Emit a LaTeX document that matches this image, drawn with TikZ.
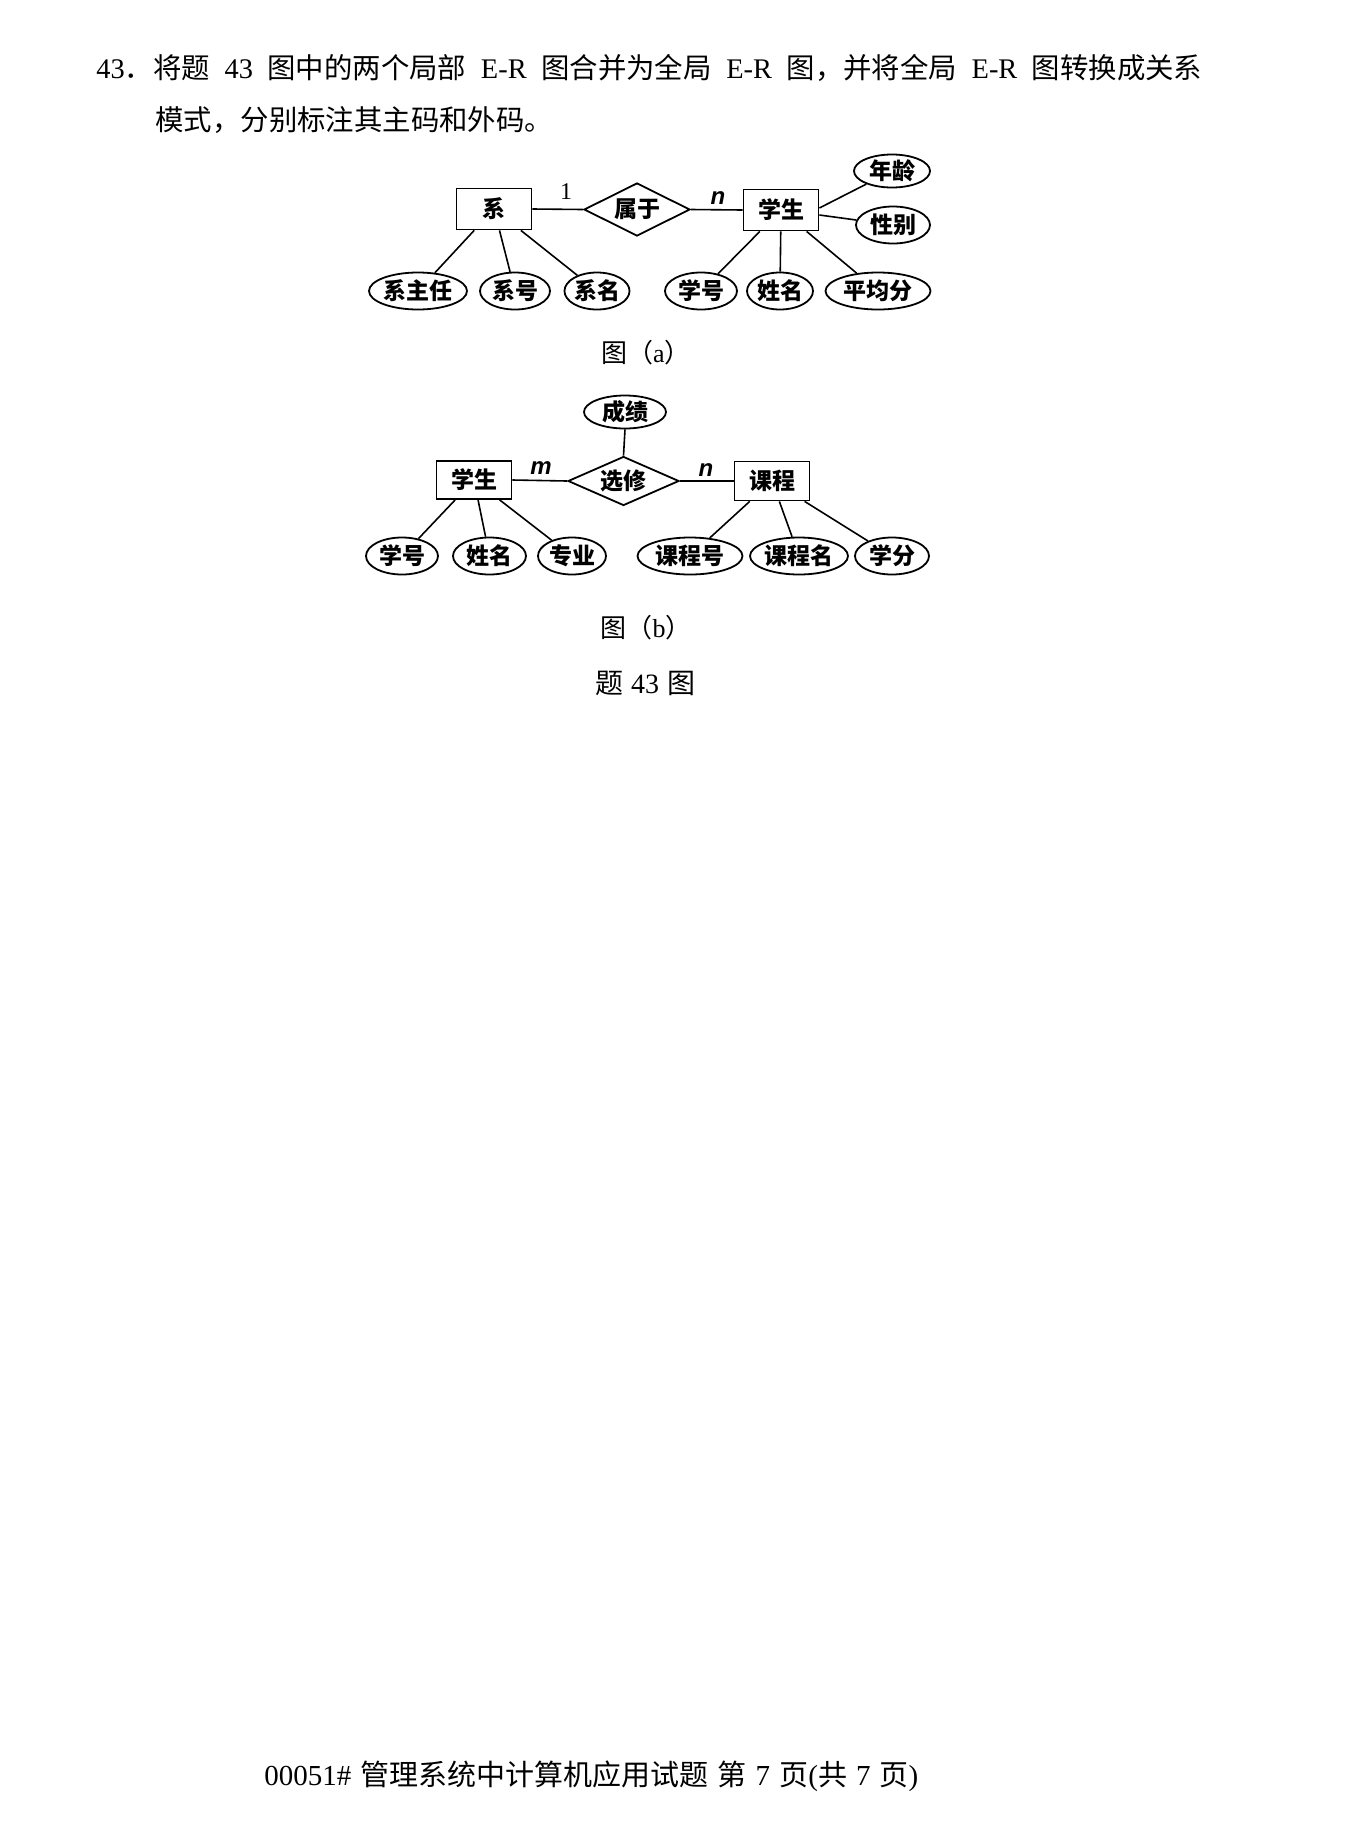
\documentclass[tikz,border=0pt]{standalone}
\usepackage{fontspec}
\setmainfont{Liberation Serif}
\newfontfamily\cjk{Noto Sans CJK SC}
\newfontfamily\lsans{Liberation Sans}
\usetikzlibrary{shapes.geometric}
\tikzset{
 lbl/.style={font=\cjk\bfseries\fontsize{11.5}{13}\selectfont},
 ent/.style={draw,line width=0.9pt,inner sep=0pt,minimum width=37.5pt,minimum height=20.5pt,lbl},
 rel/.style={draw,diamond,aspect=2,line width=0.9pt,inner sep=0pt,lbl},
 att/.style={draw,ellipse,line width=0.9pt,inner sep=0pt,minimum height=18.5pt,lbl},
 lnk/.style={line width=0.8pt},
 card/.style={inner sep=0pt,font=\lsans\bfseries\itshape\fontsize{12}{14}\selectfont},
 one/.style={inner sep=0pt,font=\fontsize{12}{14}\selectfont},
 body/.style={inner sep=0pt,anchor=base west,font=\fontsize{14.2}{17}\selectfont},
 figcap/.style={inner sep=0pt,anchor=base,font=\fontsize{13}{15}\selectfont},
}
\begin{document}
\begin{tikzpicture}[x=0.5pt,y=-0.5pt]
\fill[white] (0,0) rectangle (1356,1848);
\useasboundingbox (0,0) rectangle (1356,1848);

% question text
\node[body] (q1) at (96,78) {\makebox[553pt][s]{43{\cjk ．将题} 43 {\cjk 图中的两个局部} E-R {\cjk 图合并为全局} E-R {\cjk 图，并将全局} E-R {\cjk 图转换成关系}}};
\node[body] (q2) at (155,130) {\cjk 模式，分别标注其主码和外码。};

% figure (a)
\node[ent] (xi) at (494,209) {系};
\node[rel,minimum width=53pt,minimum height=26.5pt] (sy) at (637,209.5) {属于};
\node[ent] (st) at (781,210) {学生};
\node[att,minimum width=38pt,minimum height=16.5pt] (nl) at (892,171) {年龄};
\node[att,minimum width=37pt] (xb) at (893,225) {性别};
\node[att,minimum width=49pt] (xzr) at (418,291) {系主任};
\node[att,minimum width=35pt] (xh) at (515,291) {系号};
\node[att,minimum width=32pt] (xm) at (597,291) {系名};
\node[att,minimum width=36pt] (sh) at (701,291) {学号};
\node[att,minimum width=33pt] (xmg) at (780,291) {姓名};
\node[att,minimum width=52.5pt] (pjf) at (878,291) {平均分};

\draw[lnk] (xi.east) -- (sy.west);
\draw[lnk] (sy.east) -- (st.west);
\draw[lnk] (xi) -- (xzr);
\draw[lnk] (xi) -- (xh);
\draw[lnk] (xi) -- (xm);
\draw[lnk] (st) -- (sh);
\draw[lnk] (st) -- (xmg);
\draw[lnk] (st) -- (pjf);
\draw[lnk] ([yshift=1pt]st.east) -- (nl);
\draw[lnk] ([yshift=-2.5pt]st.east) -- (xb);

\node[one] (l1) at (566,192) {1};
\node[card] (ln) at (718,198) {n};

\node[figcap] (capa) at (646,362) {{\cjk 图（}a{\cjk ）}};

% figure (b)
\node[att,minimum width=41pt,minimum height=16.5pt] (cj) at (625,412) {成绩};
\node[rel,minimum width=55.5pt,minimum height=24.5pt] (xx) at (623.5,481) {选修};
\node[ent,minimum height=19pt] (st2) at (474,480) {学生};
\node[ent,minimum height=19.5pt] (kc) at (772,481) {课程};
\node[card] (lm) at (541,468) {m};
\node[card] (ln2) at (706,470) {n};

\node[att,minimum width=36pt] (sh2) at (402,556) {学号};
\node[att,minimum width=36.5pt] (xmg2) at (489.5,556) {姓名};
\node[att,minimum width=34pt] (zy) at (572,556) {专业};
\node[att,minimum width=52.5pt] (kch) at (690,556) {课程号};
\node[att,minimum width=49pt] (kcm) at (799,556) {课程名};
\node[att,minimum width=37pt] (xf) at (892,556) {学分};

\draw[lnk] (cj.south) -- (xx.north);
\draw[lnk] (st2.east) -- (xx.west);
\draw[lnk] (xx.east) -- (kc.west);
\draw[lnk] (st2) -- (sh2);
\draw[lnk] (st2) -- (xmg2);
\draw[lnk] (st2) -- (zy);
\draw[lnk] (kc) -- (kch);
\draw[lnk] (kc) -- (kcm);
\draw[lnk] (kc) -- (xf);

\node[figcap] (capb) at (646,637) {{\cjk 图（}b{\cjk ）}};
\node[figcap,font=\fontsize{14}{16}\selectfont] (t43) at (645,693) {{\cjk 题}\hspace{4pt}43\hspace{4pt}{\cjk 图}};

% footer
\node[inner sep=0pt,anchor=base west,font=\fontsize{14.5}{17}\selectfont] (foot) at (264,1785) {\makebox[327pt][s]{00051\# {\cjk 管理系统中计算机应用试题} {\cjk 第} 7 {\cjk 页}({\cjk 共} 7 {\cjk 页})}};
\end{tikzpicture}
\end{document}
